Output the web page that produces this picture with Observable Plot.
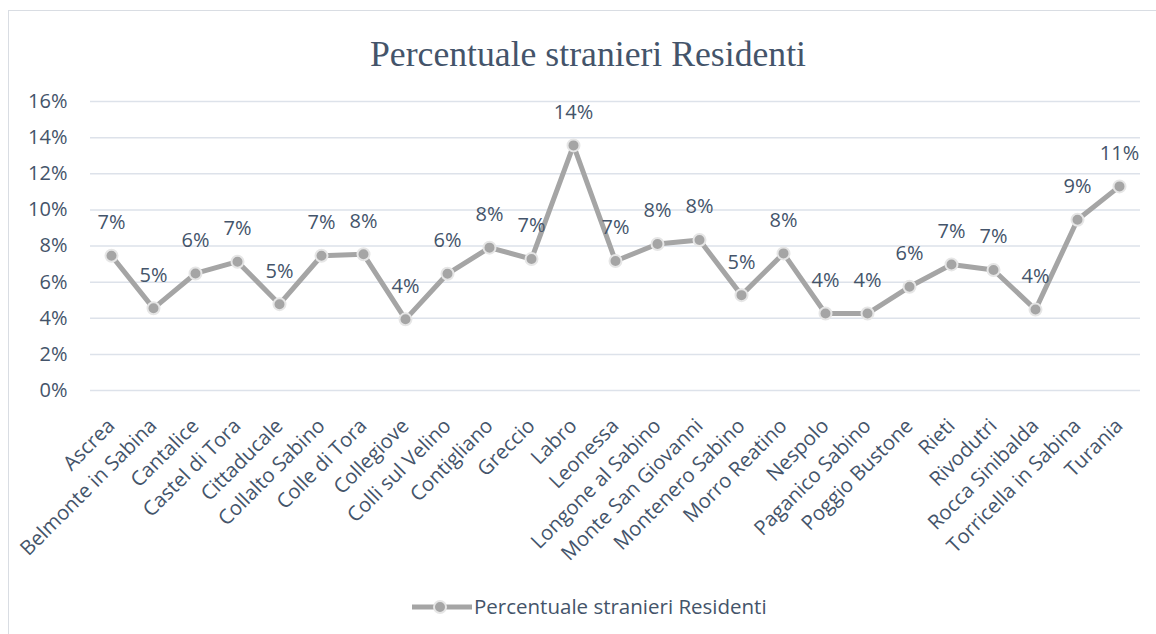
<!DOCTYPE html>
<html><head><meta charset="utf-8">
<script src="https://cdn.jsdelivr.net/npm/d3@7"></script>
<script src="https://cdn.jsdelivr.net/npm/@observablehq/plot@0.6"></script>
<style>
body{margin:0;background:#fff;font-family:"Open Sans",sans-serif;width:1156px;height:634px;overflow:hidden;position:relative;}
#frame{position:absolute;left:8px;top:10px;width:1170px;height:650px;border:1px solid #d9dde3;box-sizing:border-box;}
#title{position:absolute;left:0;top:0;}
#chart{position:absolute;left:0;top:80px;}
#legend{position:absolute;left:0;top:590px;}
</style></head><body>
<div id="frame"></div>
<svg id="title" width="1156" height="80"><text x="588" y="66" text-anchor="middle" font-family="Liberation Serif" font-size="36" fill="#44546a" textLength="436" lengthAdjust="spacingAndGlyphs">Percentuale stranieri Residenti</text></svg>
<div id="chart"></div>
<svg id="legend" width="1156" height="34">
  <line x1="412" x2="472" y1="17" y2="17" stroke="#a5a5a5" stroke-width="5"/>
  <circle cx="440" cy="17" r="6" fill="#a5a5a5" stroke="#e6e6e6" stroke-width="2"/>
  <text x="474" y="17" dy="0.35em" font-family="Open Sans" font-size="20.5" fill="#44546a">Percentuale stranieri Residenti</text>
</svg>
<script>
const comuni = ["Ascrea","Belmonte in Sabina","Cantalice","Castel di Tora","Cittaducale","Collalto Sabino","Colle di Tora","Collegiove","Colli sul Velino","Contigliano","Greccio","Labro","Leonessa","Longone al Sabino","Monte San Giovanni","Montenero Sabino","Morro Reatino","Nespolo","Paganico Sabino","Poggio Bustone","Rieti","Rivodutri","Rocca Sinibalda","Torricella in Sabina","Turania"];
const percentuali = [7.46,4.55,6.48,7.13,4.78,7.46,7.54,3.94,6.46,7.91,7.28,13.57,7.17,8.11,8.33,5.28,7.59,4.26,4.26,5.74,6.98,6.67,4.48,9.45,11.3];
const yTicks = [0,2,4,6,8,10,12,14,16];

const data = comuni.map((c,i)=>({c, v: percentuali[i]}));
const ink = "#44546a";

const chart = Plot.plot({
  width:1156, height:500,
  marginTop:21, marginBottom:190, marginLeft:90, marginRight:16,
  style:{fontFamily:"Open Sans", fontSize:"20px", color:ink, background:"transparent", overflow:"visible"},
  x:{type:"point", domain:comuni, padding:0.5, label:null, axis:null},
  y:{domain:[0,16], label:null, axis:null},
  marks:[
    Plot.gridY(yTicks,{stroke:"#dde2ea", strokeOpacity:1, strokeWidth:1.5}),
    Plot.axisY(yTicks,{tickSize:0, tickPadding:23, tickFormat:d=>d+"%", fontSize:20, fill:ink, label:null}),
    Plot.axisX({tickSize:0, tickPadding:32, tickRotate:-45, fontSize:20.3, fill:ink, label:null}),
    Plot.line(data,{x:"c", y:"v", stroke:"#a5a5a5", strokeWidth:5}),
    Plot.dot(data,{x:"c", y:"v", r:6, fill:"#a5a5a5", stroke:"#e6e6e6", strokeWidth:2}),
    Plot.text(data,{x:"c", y:"v", text:d=>Math.round(d.v)+"%", dy:-33, fill:ink, fontSize:20})
  ]
});
document.getElementById("chart").appendChild(chart);
</script>
</body></html>
